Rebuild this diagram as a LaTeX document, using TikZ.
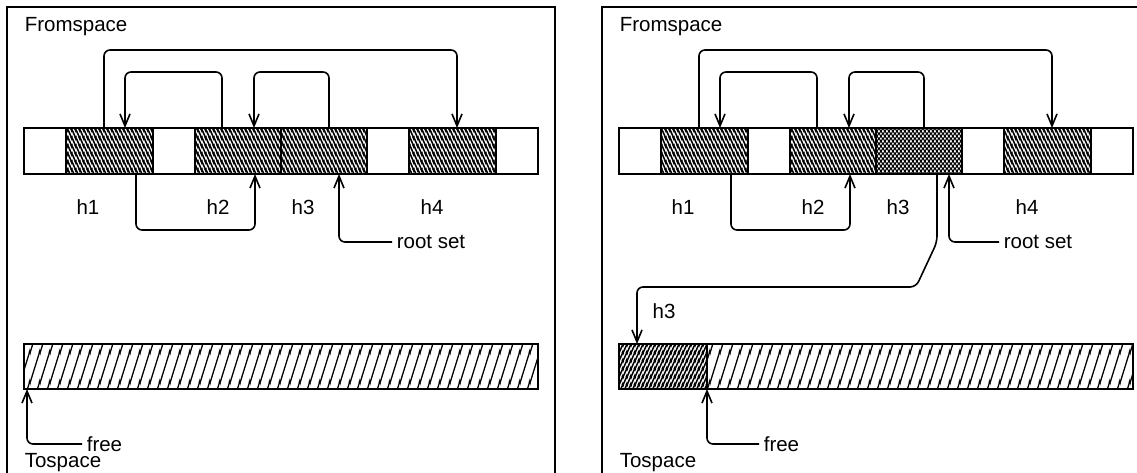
\documentclass[tikz,border=0pt]{standalone}
\usepackage{fontspec}
\setmainfont{Liberation Sans}
\usetikzlibrary{arrows.meta,patterns}
% dense lines from top-left to bottom-right
\pgfdeclarepatternformonly{densenw}{\pgfpointorigin}{\pgfqpoint{3.6pt}{8pt}}{\pgfqpoint{3.6pt}{8pt}}{%
  \pgfsetlinewidth{1.7pt}%
  \pgfpathmoveto{\pgfqpoint{-4.5pt}{10pt}}\pgfpathlineto{\pgfqpoint{0.9pt}{-2pt}}%
  \pgfpathmoveto{\pgfqpoint{-0.9pt}{10pt}}\pgfpathlineto{\pgfqpoint{4.5pt}{-2pt}}%
  \pgfpathmoveto{\pgfqpoint{2.7pt}{10pt}}\pgfpathlineto{\pgfqpoint{8.1pt}{-2pt}}%
  \pgfusepath{stroke}}
% dense lines from bottom-left to top-right
\pgfdeclarepatternformonly{densene}{\pgfpointorigin}{\pgfqpoint{3.6pt}{8pt}}{\pgfqpoint{3.6pt}{8pt}}{%
  \pgfsetlinewidth{1.7pt}%
  \pgfpathmoveto{\pgfqpoint{-4.5pt}{-2pt}}\pgfpathlineto{\pgfqpoint{0.9pt}{10pt}}%
  \pgfpathmoveto{\pgfqpoint{-0.9pt}{-2pt}}\pgfpathlineto{\pgfqpoint{4.5pt}{10pt}}%
  \pgfpathmoveto{\pgfqpoint{2.7pt}{-2pt}}\pgfpathlineto{\pgfqpoint{8.1pt}{10pt}}%
  \pgfusepath{stroke}}
% wide lines from bottom-left to top-right
\pgfdeclarepatternformonly{widene}{\pgfpointorigin}{\pgfqpoint{10pt}{30pt}}{\pgfqpoint{10pt}{30pt}}{%
  \pgfsetlinewidth{1.4pt}%
  \pgfpathmoveto{\pgfqpoint{-11.67pt}{-5pt}}\pgfpathlineto{\pgfqpoint{1.67pt}{35pt}}%
  \pgfpathmoveto{\pgfqpoint{-1.67pt}{-5pt}}\pgfpathlineto{\pgfqpoint{11.67pt}{35pt}}%
  \pgfpathmoveto{\pgfqpoint{8.33pt}{-5pt}}\pgfpathlineto{\pgfqpoint{21.67pt}{35pt}}%
  \pgfusepath{stroke}}
% small diamonds (used in white over black)
\pgfdeclarepatternformonly{diamonds}{\pgfpointorigin}{\pgfqpoint{4.4pt}{5.2pt}}{\pgfqpoint{4.4pt}{5.2pt}}{%
  \pgfpathmoveto{\pgfqpoint{1.2pt}{2.6pt}}\pgfpathlineto{\pgfqpoint{2.2pt}{0.9pt}}%
  \pgfpathlineto{\pgfqpoint{3.2pt}{2.6pt}}\pgfpathlineto{\pgfqpoint{2.2pt}{4.3pt}}\pgfpathclose
  \pgfpathmoveto{\pgfqpoint{-1pt}{0pt}}\pgfpathlineto{\pgfqpoint{0pt}{-1.7pt}}%
  \pgfpathlineto{\pgfqpoint{1pt}{0pt}}\pgfpathlineto{\pgfqpoint{0pt}{1.7pt}}\pgfpathclose
  \pgfpathmoveto{\pgfqpoint{3.4pt}{0pt}}\pgfpathlineto{\pgfqpoint{4.4pt}{-1.7pt}}%
  \pgfpathlineto{\pgfqpoint{5.4pt}{0pt}}\pgfpathlineto{\pgfqpoint{4.4pt}{1.7pt}}\pgfpathclose
  \pgfpathmoveto{\pgfqpoint{-1pt}{5.2pt}}\pgfpathlineto{\pgfqpoint{0pt}{3.5pt}}%
  \pgfpathlineto{\pgfqpoint{1pt}{5.2pt}}\pgfpathlineto{\pgfqpoint{0pt}{6.9pt}}\pgfpathclose
  \pgfpathmoveto{\pgfqpoint{3.4pt}{5.2pt}}\pgfpathlineto{\pgfqpoint{4.4pt}{3.5pt}}%
  \pgfpathlineto{\pgfqpoint{5.4pt}{5.2pt}}\pgfpathlineto{\pgfqpoint{4.4pt}{6.9pt}}\pgfpathclose
  \pgfusepath{fill}}
\begin{document}
\begin{tikzpicture}[x=1pt,y=-1pt,line width=1.6pt,
  conn/.style={rounded corners=6pt},
  arr/.style={conn,-{Straight Barb[length=12pt,width=10pt]}},
  lbl/.style={font=\fontsize{20.5}{24}\selectfont,inner sep=0pt},
  tag/.style={lbl,anchor=west,inner xsep=4pt},
  darkseg/.style={draw,pattern=densenw},
  darkne/.style={draw,pattern=densene},
  crossseg/.style={draw,preaction={fill=black},pattern=diamonds,pattern color=white},
  freeseg/.style={draw,pattern=widene}]
\useasboundingbox (0,0) rectangle (1137,472);
% ================= left panel =================
\draw (7,7) rectangle (555,495);
\node[lbl,anchor=west] (fromL) at (24,27) {Fromspace};
\draw (24,128) rectangle (66,174);
\draw[darkseg] (66,128) rectangle (153,174);
\draw (153,128) rectangle (195,174);
\draw[darkseg] (195,128) rectangle (281,174);
\draw[darkseg] (281,128) rectangle (367,174);
\draw (367,128) rectangle (409,174);
\draw[darkseg] (409,128) rectangle (496,174);
\draw (496,128) rectangle (538,174);
\node[lbl] (h1L) at (88,207) {h1};
\node[lbl] (h2L) at (218,207) {h2};
\node[lbl] (h3L) at (303,207) {h3};
\node[lbl] (h4L) at (432,207) {h4};
\coordinate (oL1) at (104,128); \coordinate (oL2) at (457,128);
\coordinate (aL1) at (222,128); \coordinate (aL2) at (125,128);
\coordinate (bL1) at (329,128); \coordinate (bL2) at (254,128);
\coordinate (cL1) at (136,174); \coordinate (cL2) at (255,174);
\coordinate (rL) at (339,174);
\draw[arr] (oL1) -- (104,50) -- (457,50) -- (oL2);
\draw[arr] (aL1) -- (222,72) -- (125,72) -- (aL2);
\draw[arr] (bL1) -- (329,72) -- (254,72) -- (bL2);
\draw[arr] (cL1) -- (136,230) -- (255,230) -- (cL2);
\node[tag] (rsL) at (392,242) {root set};
\draw[arr] (rsL.west) -- (339,242) -- (rL);
\draw[freeseg] (24,344) rectangle (538,389);
\coordinate (fL) at (27,389);
\node[tag] (frL) at (82,444) {free};
\draw[arr] (frL.west) -- (27,444) -- (fL);
\node[lbl,anchor=west] (toL) at (24,463) {Tospace};
% ================= right panel =================
\draw (602,7) rectangle (1150,495);
\node[lbl,anchor=west] (fromR) at (619,27) {Fromspace};
\draw (619,128) rectangle (661,174);
\draw[darkseg] (661,128) rectangle (748,174);
\draw (748,128) rectangle (790,174);
\draw[darkseg] (790,128) rectangle (876,174);
\draw[crossseg] (876,128) rectangle (962,174);
\draw (962,128) rectangle (1004,174);
\draw[darkseg] (1004,128) rectangle (1091,174);
\draw (1091,128) rectangle (1133,174);
\node[lbl] (h1R) at (683,207) {h1};
\node[lbl] (h2R) at (813,207) {h2};
\node[lbl] (h3R) at (898,207) {h3};
\node[lbl] (h4R) at (1027,207) {h4};
\coordinate (oR1) at (699,128); \coordinate (oR2) at (1052,128);
\coordinate (aR1) at (817,128); \coordinate (aR2) at (720,128);
\coordinate (bR1) at (924,128); \coordinate (bR2) at (849,128);
\coordinate (cR1) at (731,174); \coordinate (cR2) at (850,174);
\coordinate (rR) at (949,174);
\draw[arr] (oR1) -- (699,50) -- (1052,50) -- (oR2);
\draw[arr] (aR1) -- (817,72) -- (720,72) -- (aR2);
\draw[arr] (bR1) -- (924,72) -- (849,72) -- (bR2);
\draw[arr] (cR1) -- (731,230) -- (850,230) -- (cR2);
\node[tag] (rsR) at (999,242) {root set};
\draw[arr] (rsR.west) -- (949,242) -- (rR);
\coordinate (mR1) at (937,174); \coordinate (mR2) at (637,344);
\draw[arr] (mR1) -- (937,242) -- (916,287) -- (637,287) -- (mR2);
\node[lbl] (h3copy) at (664,311) {h3};
\draw[darkne] (619,344) rectangle (707,389);
\draw[freeseg] (707,344) rectangle (1133,389);
\coordinate (fR) at (707,389);
\node[tag] (frR) at (759,444) {free};
\draw[arr] (frR.west) -- (707,444) -- (fR);
\node[lbl,anchor=west] (toR) at (619,463) {Tospace};
\end{tikzpicture}
\end{document}
